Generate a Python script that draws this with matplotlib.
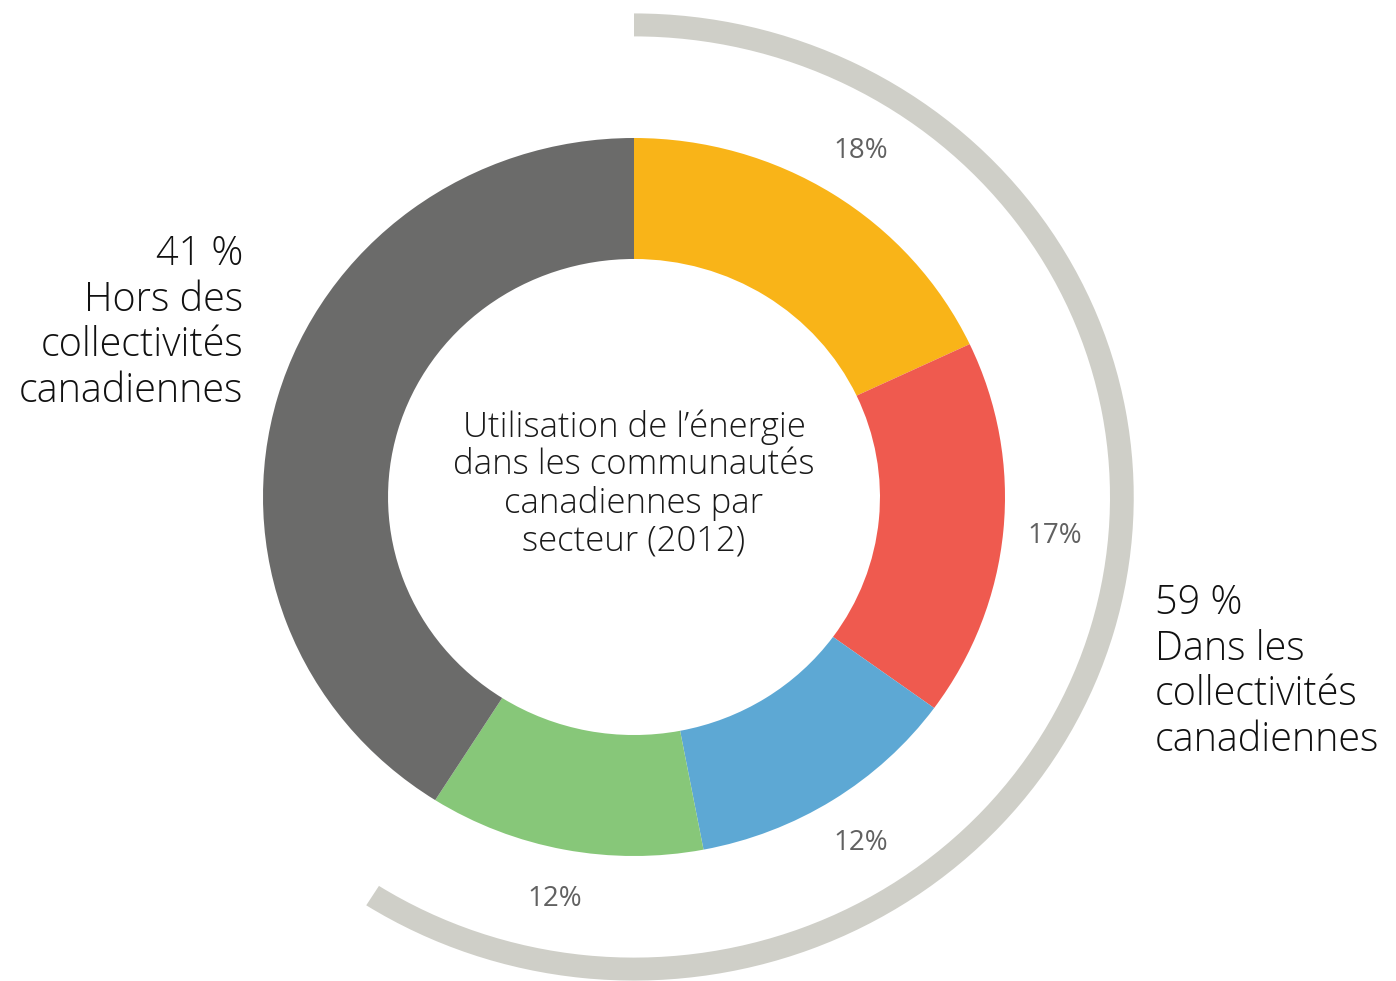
import matplotlib
matplotlib.use("Agg")
import matplotlib.pyplot as plt

# Data
sectors = ["Secteur A", "Secteur B", "Secteur C", "Secteur D", "Hors collectivités"]
values = [18, 17, 12, 12, 41]
pct_labels = ["18%", "17%", "12%", "12%", ""]
colors = ["#F9B418", "#EF5A4F", "#5DA8D4", "#87C779", "#6B6B6A"]

groups = ["Dans les collectivités canadiennes", "Hors des collectivités canadiennes"]
group_values = [59, 41]

title = "Utilisation de l\u2019énergie\ndans les communautés\ncanadiennes par\nsecteur (2012)"

plt.rcParams['font.family'] = ['Open Sans', 'DejaVu Sans']

W, H = 1396, 981
fig = plt.figure(figsize=(W / 100, H / 100), dpi=100)
ax = fig.add_axes([0, 0, 1, 1])

# pixel geometry of the reference
cx, cy = 634, 497
sx, sy = 371, 359  # pixels per unit horizontally / vertically

# Outer ring (group arc)
ax.pie(group_values, radius=1.347, startangle=90, counterclock=False,
       colors=["#CFCFC8", "none"],
       wedgeprops=dict(width=0.064, linewidth=0))

# Main donut
wedges, texts = ax.pie(values, radius=1.0, startangle=90, counterclock=False,
                       colors=colors, labels=pct_labels, labeldistance=1.14,
                       wedgeprops=dict(width=0.337, linewidth=0),
                       textprops=dict(fontsize=20, color="#616161", fontweight=400))
for t in texts:
    t.set_ha("center")
    t.set_va("center")

ax.set_aspect("auto")
ax.set_xlim(-cx / sx, (W - cx) / sx)
ax.set_ylim(-(H - cy) / sy, cy / sy)
ax.axis("off")

ax.text(0, (cy - 484) / sy, title, ha="center", va="center", fontsize=25,
        color="#1a1a1a", linespacing=1.13, fontweight=300)

ax.text((243 - cx) / sx, (cy - 323) / sy,
        "41 %\nHors des\ncollectivités\ncanadiennes",
        ha="right", va="center", fontsize=28.5, color="#111111", linespacing=1.15,
        fontweight=300)
ax.text((1155 - cx) / sx, (cy - 672) / sy,
        "59 %\nDans les\ncollectivités\ncanadiennes",
        ha="left", va="center", fontsize=28.5, color="#111111", linespacing=1.15,
        fontweight=300)

fig.savefig("out.png", dpi=100, facecolor="white")
